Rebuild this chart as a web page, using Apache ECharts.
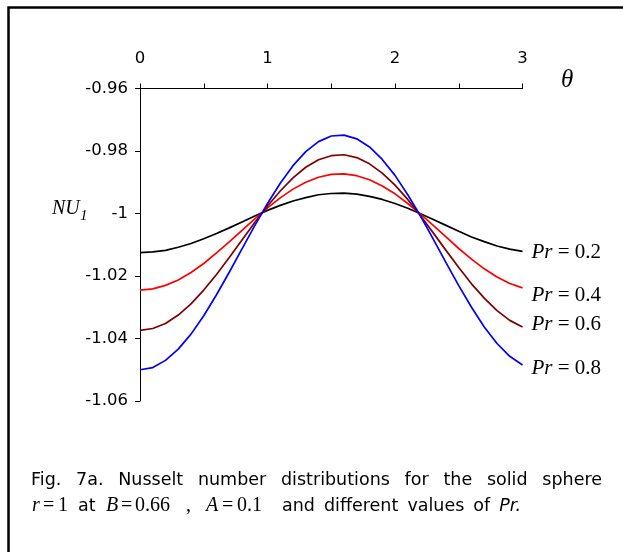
<!DOCTYPE html>
<html>
<head>
<meta charset="utf-8">
<script src="https://cdn.jsdelivr.net/npm/echarts@6/dist/echarts.min.js"></script>
<style>
html,body{margin:0;padding:0;background:#fff;}
#chart{width:623px;height:552px;}
</style>
</head>
<body>
<div id="chart"></div>
<script>
// theta values (x axis)
const theta = [0,0.1,0.2,0.3,0.4,0.5,0.6,0.7,0.8,0.9,1.0,1.1,1.2,1.3,1.4,1.5,1.6,1.7,1.8,1.9,2.0,2.1,2.2,2.3,2.4,2.5,2.6,2.7,2.8,2.9,3.0];
// NU1 values
const nuPr02 = [-1.0125,-1.0123,-1.0118,-1.0108,-1.0096,-1.0081,-1.0064,-1.0046,-1.0027,-1.0008,-0.9990,-0.9974,-0.9960,-0.9949,-0.9940,-0.9936,-0.9935,-0.9938,-0.9945,-0.9955,-0.9968,-0.9983,-1.0001,-1.0019,-1.0038,-1.0057,-1.0075,-1.0090,-1.0104,-1.0114,-1.0121];
const nuPr04 = [-1.0245,-1.0241,-1.0230,-1.0213,-1.0189,-1.0160,-1.0126,-1.0091,-1.0054,-1.0017,-0.9982,-0.9950,-0.9922,-0.9900,-0.9884,-0.9875,-0.9873,-0.9879,-0.9892,-0.9912,-0.9937,-0.9968,-1.0002,-1.0038,-1.0075,-1.0112,-1.0146,-1.0177,-1.0203,-1.0224,-1.0238];
const nuPr06 = [-1.0374,-1.0368,-1.0352,-1.0325,-1.0289,-1.0245,-1.0195,-1.0141,-1.0085,-1.0029,-0.9976,-0.9928,-0.9886,-0.9852,-0.9828,-0.9815,-0.9812,-0.9821,-0.9841,-0.9871,-0.9909,-0.9955,-1.0007,-1.0062,-1.0118,-1.0173,-1.0225,-1.0271,-1.0311,-1.0342,-1.0363];
const nuPr08 = [-1.0500,-1.0493,-1.0470,-1.0434,-1.0386,-1.0327,-1.0260,-1.0188,-1.0113,-1.0039,-0.9968,-0.9903,-0.9847,-0.9802,-0.9770,-0.9752,-0.9749,-0.9761,-0.9787,-0.9827,-0.9878,-0.9940,-1.0008,-1.0082,-1.0157,-1.0231,-1.0300,-1.0363,-1.0416,-1.0457,-1.0485];
const seriesNames = ['Pr = 0.2','Pr = 0.4','Pr = 0.6','Pr = 0.8'];
const prValues = ['0.2','0.4','0.6','0.8'];
const seriesValues = [nuPr02, nuPr04, nuPr06, nuPr08];
const seriesColors = ['#000000','#ff0000','#800000','#0000ff'];
const labelOffsets = [[0,1],[0,8],[0,-2],[0,3]];
const captionLine1 = ['Fig.','7a.','Nusselt','number','distributions','for','the','solid','sphere'];
const captionLine2Tail = ['and','different','values','of'];

const chart = echarts.init(document.getElementById('chart'), null, {renderer:'canvas'});
const sans = '"DejaVu Sans", "Liberation Sans", sans-serif';
const serif = '"Liberation Serif", "Times New Roman", serif';

const mctx = document.createElement('canvas').getContext('2d');
function measure(text, font) { mctx.font = font; return mctx.measureText(text).width; }

const series = seriesValues.map((vals, k) => ({
  name: seriesNames[k],
  type: 'line',
  data: theta.map((t, i) => [t, vals[i]]),
  showSymbol: false,
  smooth: false,
  lineStyle: {color: seriesColors[k], width: 1.7},
  itemStyle: {color: seriesColors[k]},
  emphasis: {disabled: true},
  endLabel: {
    show: true,
    distance: 9,
    offset: labelOffsets[k],
    formatter: '{i|Pr} = ' + prValues[k],
    color: '#000',
    fontFamily: serif,
    fontSize: 21,
    rich: {i: {fontStyle: 'italic', fontFamily: serif, fontSize: 21, color: '#000'}}
  }
}));

function fontStr(font, size, italic) { return (italic ? 'italic ' : '') + size + 'px ' + font; }
function txt(x, y, text, font, size, italic) {
  return {
    type: 'text', left: x, top: y - size * 0.6,
    style: {text: text, font: fontStr(font, size, italic), fill: '#000'}
  };
}

const graphics = [
  {type:'rect', shape:{x:8.5, y:7.5, width:800, height:800}, style:{fill:'none', stroke:'#000', lineWidth:2.5}, silent:true}
];
// caption line 1: justified between x=31 and x=602
const capSize = 17.5;
const capFont = fontStr(sans, capSize, false);
const widths = captionLine1.map(w => measure(w, capFont));
const totalW = widths.reduce((a, b) => a + b, 0);
const gap = (602 - 31 - totalW) / (captionLine1.length - 1);
let cx = 31;
captionLine1.forEach((w, i) => { graphics.push(txt(cx, 482, w, sans, capSize, false)); cx += widths[i] + gap; });
// second caption line
const y2 = 508;
const ms = 20;
graphics.push(txt(32, y2, 'r', serif, ms, true));
graphics.push(txt(43, y2, '=', serif, ms, false));
graphics.push(txt(58, y2, '1', serif, ms, false));
graphics.push(txt(78, y2, 'at', sans, capSize, false));
graphics.push(txt(106, y2, 'B', serif, ms, true));
graphics.push(txt(121, y2, '=', serif, ms, false));
graphics.push(txt(135, y2, '0.66', serif, ms, false));
graphics.push(txt(186, y2, ',', serif, ms, false));
graphics.push(txt(206, y2, 'A', serif, ms, true));
graphics.push(txt(222, y2, '=', serif, ms, false));
graphics.push(txt(237, y2, '0.1', serif, ms, false));
const prFont = fontStr(sans, capSize, true);
const tailW = captionLine2Tail.map(w => measure(w, capFont));
const prW = measure('Pr.', prFont);
const tailGap = (521 - 282 - tailW.reduce((a, b) => a + b, 0) - prW) / captionLine2Tail.length;
let x2 = 282;
captionLine2Tail.forEach((w, i) => {
  graphics.push(txt(x2, y2, w, sans, capSize, false));
  x2 += tailW[i] + tailGap;
});
graphics.push(txt(x2, y2, 'Pr.', sans, capSize, true));
// axis names
graphics.push(txt(52, 211, 'NU', serif, 20, true));
graphics.push(txt(80, 218, '1', serif, 15, true));
graphics.push(txt(561, 83, 'θ', serif, 25, true));

chart.setOption({
  backgroundColor: '#fff',
  animation: false,
  grid: {left: 140, right: 100.5, top: 88.5, bottom: 151, containLabel: false},
  xAxis: {
    type: 'value', position: 'top', min: 0, max: 3, interval: 0.5,
    axisLine: {show: true, onZero: false, lineStyle: {color: '#000', width: 1}},
    axisTick: {show: true, inside: false, length: 5, lineStyle: {color: '#000', width: 1}},
    axisLabel: {
      margin: 21, color: '#000', fontFamily: sans, fontSize: 16.5,
      formatter: v => (Math.abs(v - Math.round(v)) < 1e-9 ? String(Math.round(v)) : '')
    },
    splitLine: {show: false}
  },
  yAxis: {
    type: 'value', min: -1.06, max: -0.96, interval: 0.02,
    axisLine: {show: true, onZero: false, lineStyle: {color: '#000', width: 1}},
    axisTick: {show: true, inside: false, length: 5, lineStyle: {color: '#000', width: 1}},
    axisLabel: {
      margin: 12, color: '#000', fontFamily: sans, fontSize: 16.5,
      formatter: v => String(parseFloat(v.toFixed(2)))
    },
    splitLine: {show: false}
  },
  series: series,
  graphic: graphics
});
</script>
</body>
</html>
